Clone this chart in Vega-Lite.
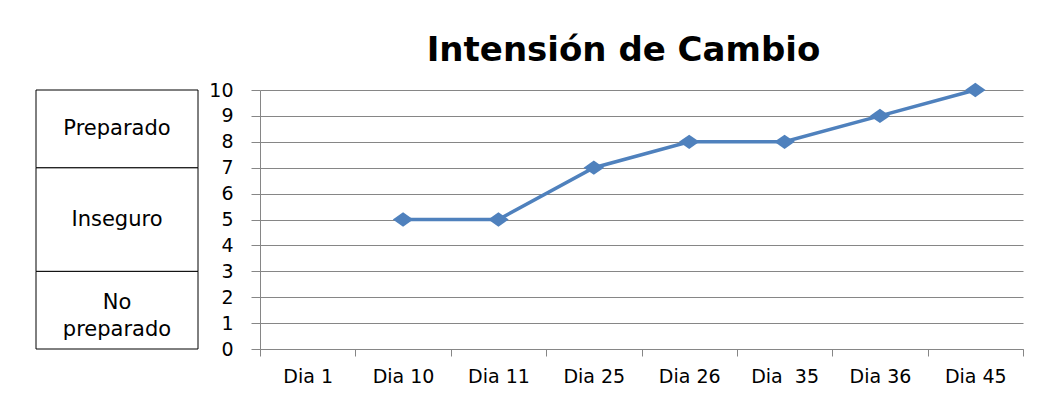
{
  "$schema": "https://vega.github.io/schema/vega-lite/v6.json",
  "background": "white",
  "padding": {"left": 35, "top": 34, "right": 29, "bottom": 0},
  "bounds": "flush",
  "spacing": 62,
  "title": {
    "text": "Intensión de Cambio",
    "font": "DejaVu Sans",
    "fontSize": 34,
    "fontWeight": "bold",
    "color": "#000000",
    "anchor": "middle",
    "dx": 94,
    "offset": 13
  },
  "config": {
    "view": {"stroke": null},
    "font": "DejaVu Sans"
  },
  "datasets": {
    "scores": [
      {"dia": "Dia 1", "valor": null},
      {"dia": "Dia 10", "valor": 5},
      {"dia": "Dia 11", "valor": 5},
      {"dia": "Dia 25", "valor": 7},
      {"dia": "Dia 26", "valor": 8},
      {"dia": "Dia  35", "valor": 8},
      {"dia": "Dia 36", "valor": 9},
      {"dia": "Dia 45", "valor": 10}
    ],
    "estados": [
      {"estado": "No\npreparado", "desde": 0, "hasta": 3},
      {"estado": "Inseguro", "desde": 3, "hasta": 7},
      {"estado": "Preparado", "desde": 7, "hasta": 10}
    ]
  },
  "hconcat": [
    {
      "width": 162,
      "height": 259,
      "data": {"name": "estados"},
      "layer": [
        {
          "mark": {"type": "rect", "fill": "white", "stroke": "#000000", "strokeWidth": 1},
          "encoding": {
            "y": {"field": "desde", "type": "quantitative", "scale": {"domain": [0, 10]}, "axis": null},
            "y2": {"field": "hasta"},
            "x": {"value": 0},
            "x2": {"value": "width"}
          }
        },
        {
          "transform": [
            {"filter": "indexof(datum.estado, '\\n') < 0"},
            {"calculate": "(datum.desde + datum.hasta) / 2", "as": "centro"}
          ],
          "mark": {"type": "text", "fontSize": 21, "color": "#000000", "align": "center", "baseline": "middle"},
          "encoding": {
            "y": {"field": "centro", "type": "quantitative", "scale": {"domain": [0, 10]}, "axis": null},
            "x": {"value": 81},
            "text": {"field": "estado"}
          }
        },
        {
          "transform": [
            {"filter": "indexof(datum.estado, '\\n') >= 0"},
            {"calculate": "(datum.desde + datum.hasta) / 2", "as": "centro"}
          ],
          "mark": {"type": "text", "fontSize": 21, "color": "#000000", "lineBreak": "\n", "lineHeight": 27, "align": "center", "baseline": "middle", "dy": -7},
          "encoding": {
            "y": {"field": "centro", "type": "quantitative", "scale": {"domain": [0, 10]}, "axis": null},
            "x": {"value": 81},
            "text": {"field": "estado"}
          }
        }
      ]
    },
    {
      "width": 763,
      "height": 259,
      "data": {"name": "scores"},
      "encoding": {
        "x": {
          "field": "dia",
          "type": "nominal",
          "sort": null,
          "scale": {
            "type": "band",
            "domain": ["Dia 1", "Dia 10", "Dia 11", "Dia 25", "Dia 26", "Dia  35", "Dia 36", "Dia 45"],
            "paddingInner": 0,
            "paddingOuter": 0
          },
          "axis": {
            "title": null,
            "labelAngle": 0,
            "labelExpr": "replace(datum.label, '  ', ' \u00a0')",
            "labelFontSize": 19,
            "labelColor": "#000000",
            "labelPadding": 11,
            "tickBand": "extent",
            "tickSize": 7,
            "tickColor": "#868686",
            "domainColor": "#868686",
            "grid": false
          }
        },
        "y": {
          "field": "valor",
          "type": "quantitative",
          "scale": {"domain": [0, 10]},
          "axis": {
            "title": null,
            "values": [0, 1, 2, 3, 4, 5, 6, 7, 8, 9, 10],
            "grid": true,
            "gridColor": "#868686",
            "domainColor": "#868686",
            "tickColor": "#868686",
            "tickSize": 9,
            "labelPadding": 18,
            "labelFontSize": 19,
            "labelColor": "#000000"
          }
        }
      },
      "layer": [
        {"mark": {"type": "line", "interpolate": "linear", "color": "#4F81BD", "strokeWidth": 3.5}},
        {"mark": {"type": "point", "shape": "M-1,0L0,-0.7L1,0L0,0.7Z", "size": 420, "filled": true, "color": "#4F81BD", "opacity": 1}}
      ]
    }
  ]
}
